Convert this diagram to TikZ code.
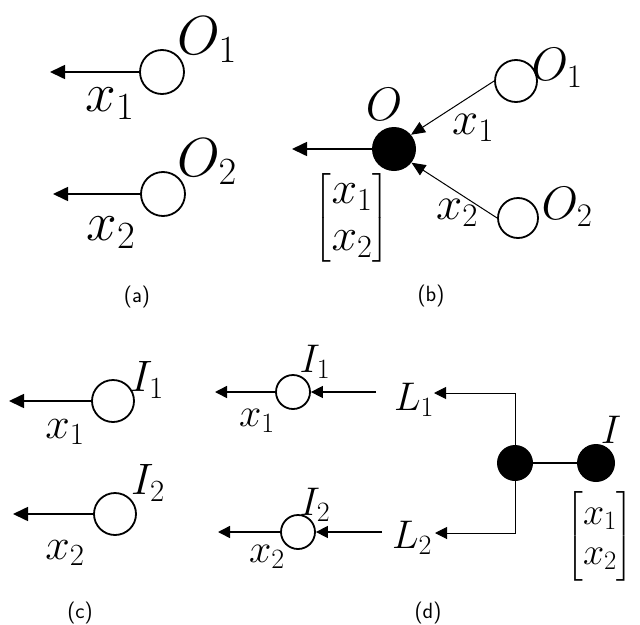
\RequirePackage{fix-cm}
\documentclass[tikz,border=0pt]{standalone}
\usepackage{amsmath}
\usetikzlibrary{arrows.meta,calc}
\tikzset{
  opn/.style={circle,draw,line width=1.8pt,minimum size=#1,inner sep=0pt},
  fil/.style={circle,fill=black,minimum size=#1,inner sep=0pt},
  arrA/.style={line width=1.6pt,-{Triangle[length=15pt,width=14pt]}},
  arrB/.style={line width=1pt,-{Triangle[length=14pt,width=12pt]}},
  arrD/.style={line width=1.5pt,-{Triangle[length=12pt,width=12pt]}},
  arrDt/.style={line width=1pt,-{Triangle[length=12pt,width=12pt]}},
  fa/.style={inner sep=0pt,font=\fontsize{55}{58}\selectfont},
  fb/.style={inner sep=0pt,font=\fontsize{47}{50}\selectfont},
  fbm/.style={inner sep=0pt,font=\fontsize{46}{47}\selectfont},
  fc/.style={inner sep=0pt,font=\fontsize{44}{46}\selectfont},
  fd/.style={inner sep=0pt,font=\fontsize{40}{42}\selectfont},
  fdm/.style={inner sep=0pt,font=\fontsize{38}{40}\selectfont},
  captxt/.style={inner sep=0pt,font=\sffamily\fontsize{22}{24}\selectfont},
}
\begin{document}
\begin{tikzpicture}[x=1pt,y=-1pt]
\useasboundingbox (0,0) rectangle (640,624);
% ---------- (a)
\node[opn=44pt] (ao1) at (162,72) {};
\coordinate (aa1) at (50,72);
\draw[arrA] (ao1) -- (aa1);
\node[fa] (ao1l) at (207,40) {$O_1$};
\node[fa] (ax1) at (110,104) {$x_1$};
\node[opn=44pt] (ao2) at (163,194) {};
\coordinate (aa2) at (53,194);
\draw[arrA] (ao2) -- (aa2);
\node[fa] (ao2l) at (207,162) {$O_2$};
\node[fa] (ax2) at (111,233) {$x_2$};
\node[captxt] (capa) at (137,297) {(a)};
% ---------- (b)
\node[fil=44pt] (bO) at (394,149) {};
\coordinate (ba) at (292,149);
\draw[arrA] (bO) -- (ba);
\node[opn=42pt] (bo1) at (516,81) {};
\node[opn=40pt] (bo2) at (518,218) {};
\draw[arrB] (bo1.west) -- (bO.40);
\draw[arrB] (bo2.west) -- (bO.-38);
\node[fb] (bOl) at (384,104) {$O$};
\node[fb] (bx1) at (473,128) {$x_1$};
\node[fb] (bx2) at (457,213) {$x_2$};
\node[fb] (bo1l) at (557,68) {$O_1$};
\node[fb] (bo2l) at (567,207) {$O_2$};
\node[fbm] (bm) at (352,218) {$\begin{bmatrix} x_1\\ x_2\end{bmatrix}$};
\node[captxt] (capb) at (431,296) {(b)};
% ---------- (c)
\node[opn=42pt] (ci1) at (113,401) {};
\coordinate (ca1) at (9,401);
\draw[arrA] (ci1) -- (ca1);
\node[opn=42pt] (ci2) at (115,514) {};
\coordinate (ca2) at (13,514);
\draw[arrA] (ci2) -- (ca2);
\node[fc] (ci1l) at (147,380) {$I_1$};
\node[fc] (cx1) at (65,432) {$x_1$};
\node[fc] (ci2l) at (148,483) {$I_2$};
\node[fc] (cx2) at (65,553) {$x_2$};
\node[captxt] (capc) at (80,613) {(c)};
% ---------- (d)
\node[opn=34pt] (di1) at (293,392) {};
\coordinate (da1) at (215,392);
\draw[arrD] (di1) -- (da1);
\node[opn=34pt] (di2) at (298,532) {};
\coordinate (da2) at (218,532);
\draw[arrD] (di2) -- (da2);
\node[fd] (dL1) at (414,400) {$L_1$};
\node[fd] (dL2) at (412,538) {$L_2$};
\coordinate (dl1s) at (376,392);
\coordinate (dl2s) at (382,532);
\draw[arrD] (dl1s) -- (di1);
\draw[arrD] (dl2s) -- (di2);
\node[fil=36pt] (dJ) at (515,463) {};
\node[fil=38pt] (dI) at (596,463) {};
\draw[line width=2pt] (dJ) -- (dI);
\coordinate (djt) at (515,393);
\coordinate (djb) at (515,533);
\coordinate (dl1e) at (434,393);
\coordinate (dl2e) at (435,533);
\draw[arrDt] (dJ.center) -- (djt) -- (dl1e);
\draw[arrDt] (dJ.center) -- (djb) -- (dl2e);
\node[fd] (di1l) at (315,362) {$I_1$};
\node[fd] (dx1) at (257,421) {$x_1$};
\node[fd] (di2l) at (315,505) {$I_2$};
\node[fd] (dx2) at (267,557) {$x_2$};
\node[fd] (dIl) at (611,430) {$I$};
\node[fdm] (dm) at (600,536) {$\begin{bmatrix} x_1\\ x_2\end{bmatrix}$};
\node[captxt] (capd) at (428,613) {(d)};
\end{tikzpicture}
\end{document}
